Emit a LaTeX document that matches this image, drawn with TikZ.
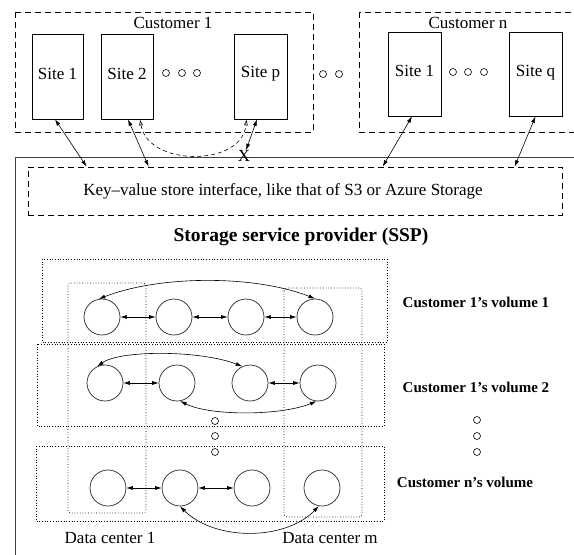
\documentclass[tikz,border=0pt]{standalone}
\usepackage{fontspec}
\setmainfont{Liberation Serif}
\usetikzlibrary{arrows.meta}
\begin{document}
\begin{tikzpicture}[x=1pt,y=-1pt,
  sitebox/.style={draw, line width=0.7pt, minimum width=52pt, minimum height=85pt, inner sep=0pt, text depth=6pt, font=\fontsize{17}{20}\selectfont},
  volc/.style={draw=black!85, circle, line width=0.7pt, minimum size=36pt, inner sep=0pt},
  dashbox/.style={draw, dash pattern=on 6pt off 4pt, line width=0.7pt},
  dotbox/.style={draw, dotted, line width=0.7pt},
  biarrow/.style={{Latex[length=6.5pt,width=4pt]}-{Latex[length=6.5pt,width=4pt]}, line width=0.6pt},
  dasharrow/.style={{Latex[open,length=6pt,width=4pt]}-{Latex[open,length=6pt,width=4pt]}, dash pattern=on 4pt off 3pt, line width=0.6pt},
  lbl/.style={font=\fontsize{17}{20}\selectfont, inner sep=0pt},
  blbl/.style={font=\bfseries\fontsize{15}{18}\selectfont, inner sep=0pt},
  ttl/.style={font=\bfseries\fontsize{19.5}{22}\selectfont, inner sep=0pt},
  smallo/.style={circle, draw, line width=0.6pt, minimum size=7pt, inner sep=0pt}
]
\useasboundingbox (0,0) rectangle (574,555);
\clip (0,0) rectangle (574,555);

% customer boxes
\draw[dashbox] (15,12) rectangle (313,132);
\draw[dashbox] (359,12) rectangle (600,132);
\node[lbl] (c1) at (173,23) {Customer 1};
\node[lbl] (cn) at (468,23) {Customer n};

% sites
\node[sitebox, minimum width=51pt] (s11) at (57.5,76.5) {Site 1};
\node[sitebox] (s21) at (127,76.5) {Site 2};
\node[sitebox, minimum width=53pt, text depth=9pt] (sp) at (260.5,76.5) {Site p};
\node[sitebox, minimum width=53pt, minimum height=84pt] (s1n) at (414.5,74) {Site 1};
\node[sitebox, minimum width=53pt, minimum height=84pt] (sq) at (535.5,74) {Site q};

% small circles
\foreach \x/\n in {166/a,182/b,197/c} \node[smallo] (o1\n) at (\x,73) {};
\foreach \x/\n in {323/a,339/b} \node[smallo] (o2\n) at (\x,74) {};
\foreach \x/\n in {453/a,468/b,484/c} \node[smallo] (o3\n) at (\x,72) {};

% SSP frame
\draw[line width=0.8pt, black!75] (15,700) -- (15,157) -- (700,157);

% key-value box
\node[dashbox, minimum width=534pt, minimum height=48pt, inner sep=0pt] (kv) at (295,191) {};
\node[lbl] (kvt) at (283,191) {Key\textendash value store interface, like that of S3 or Azure Storage};
\node[ttl] (ssp) at (301,237) {Storage service provider (SSP)};

% X mark
\node[lbl] (xm) at (244,156) {X};

% arrows from sites
\draw[biarrow] ([xshift=-2.5pt]s11.south) -- ([xshift=59pt]kv.north west);
\draw[biarrow] ([xshift=1pt]s21.south) -- ([xshift=121pt]kv.north west);
\draw[biarrow] ([xshift=-3.5pt]sp.south) -- ([xshift=2pt]xm.north);
\draw[dasharrow] ([xshift=13pt]s21.south) .. controls (148,167) and (242,167) .. ([xshift=-14pt]sp.south);
\draw[biarrow] ([xshift=-2.5pt]s1n.south) -- ([xshift=355pt]kv.north west);
\draw[biarrow] (sq.south) -- ([xshift=487pt]kv.north west);

% volume boxes
\draw[dotbox] (42,259) rectangle (387,342);
\draw[dotbox] (37,344) rectangle (384,426);
\draw[dotbox] (36,446) rectangle (384,521);

% data center boxes
\draw[dotbox, rounded corners=3pt] (68,283) rectangle (146,513);
\draw[dotbox, rounded corners=3pt] (284,288) rectangle (362,517);

% volume 1
\node[volc] (v11) at (102,317) {};
\node[volc] (v12) at (174,317) {};
\node[volc] (v13) at (246,317) {};
\node[volc] (v14) at (315,317) {};
\draw[biarrow] (v11) -- (v12);
\draw[biarrow] (v12) -- (v13);
\draw[biarrow] (v13) -- (v14);
\draw[biarrow] (v11.100) .. controls (160,275) and (255,275) .. (v14.90);

% volume 2
\node[volc] (v21) at (105,383) {};
\node[volc] (v22) at (177,383) {};
\node[volc] (v23) at (250,383) {};
\node[volc] (v24) at (318,383) {};
\draw[biarrow] (v21) -- (v22);
\draw[biarrow] (v23) -- (v24);
\draw[biarrow] (v21.115) .. controls (120,350) and (200,350) .. (v23.115);
\draw[biarrow] (v22.-80) .. controls (210,416) and (280,416) .. (v24.-95);

% volume n
\node[volc] (vn1) at (108,488) {};
\node[volc] (vn2) at (180,488) {};
\node[volc] (vn3) at (252,488) {};
\node[volc] (vn4) at (322,488) {};
\draw[biarrow] (vn1) -- (vn2);
\draw[biarrow] (vn2) -- (vn3);
\draw[biarrow] (vn2.-90) .. controls (215,541) and (285,541) .. (vn4.-100);

% vertical dots
\foreach \y/\n in {421/a,436/b,452/c} \node[smallo] (o4\n) at (215,\y) {};
\foreach \y/\n in {420/a,436/b,452/c} \node[smallo] (o5\n) at (477,\y) {};

% labels
\node[blbl] (l1) at (476,302) {Customer 1's volume 1};
\node[blbl] (l2) at (476,387) {Customer 1's volume 2};
\node[blbl] (l3) at (465,482) {Customer n's volume};
\node[lbl] (d1) at (110,538) {Data center 1};
\node[lbl] (dm) at (330,538) {Data center m};
\end{tikzpicture}
\end{document}
